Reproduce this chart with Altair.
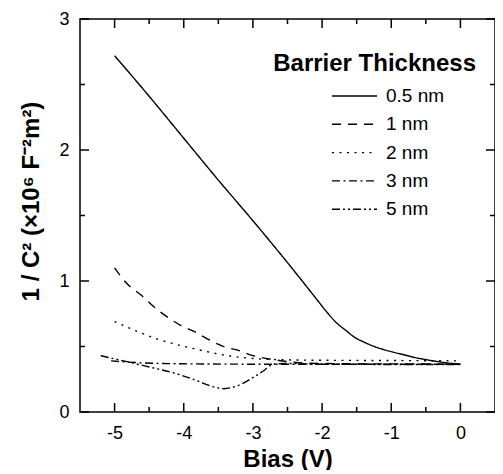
import altair as alt
import pandas as pd

FONT = "Liberation Sans"

series = ["0.5 nm", "1 nm", "2 nm", "3 nm", "5 nm"]
legend_title = "Barrier Thickness"
x_title = "Bias (V)"
y_title = "1 / C² (×10⁶ F⁻²m²)"

bias_05 = [-5.0, -4.5, -4.0, -3.5, -3.0, -2.5, -2.25, -2.1, -1.95, -1.81, -1.65, -1.53, -1.4, -1.245, -1.1, -0.96, -0.8, -0.676, -0.5, -0.39, -0.2, 0.0]
val_05 = [2.72, 2.41, 2.09, 1.77, 1.46, 1.14, 0.975, 0.875, 0.775, 0.69, 0.62, 0.57, 0.535, 0.50, 0.475, 0.455, 0.435, 0.418, 0.40, 0.39, 0.375, 0.365]

bias_1 = [-5.0, -4.84, -4.6, -4.39, -4.25, -4.04, -3.85, -3.63, -3.45, -3.18, -3.0, -2.76, -2.5, -2.2, -1.5, -1.0, 0.0]
val_1 = [1.10, 0.99, 0.885, 0.785, 0.73, 0.66, 0.615, 0.55, 0.505, 0.465, 0.43, 0.405, 0.385, 0.372, 0.368, 0.367, 0.365]

bias_2 = [-5.0, -4.74, -4.4, -4.1, -3.7, -3.33, -2.95, -2.5, -2.0, -1.0, 0.0]
val_2 = [0.69, 0.63, 0.56, 0.515, 0.465, 0.427, 0.407, 0.398, 0.395, 0.393, 0.39]

bias_3 = [-5.05, -4.6, -4.0, -3.0, -2.0, -1.0, 0.0]
val_3 = [0.39, 0.375, 0.368, 0.365, 0.365, 0.364, 0.364]

bias_5 = [-5.2, -4.55, -4.08, -3.8, -3.61, -3.5, -3.42, -3.33, -3.18, -3.04, -2.85, -2.71, -2.5, -2.0, -1.0, 0.0]
val_5 = [0.43, 0.35, 0.288, 0.237, 0.198, 0.183, 0.178, 0.184, 0.21, 0.25, 0.313, 0.364, 0.37, 0.365, 0.363, 0.363]

x_major = [-5, -4, -3, -2, -1, 0]
x_minor = [-4.5, -3.5, -2.5, -1.5, -0.5]
y_major = [0, 1, 2, 3]
y_minor = [0.5, 1.5, 2.5]

dashes = [[1, 0], [9, 7], [2, 5.5], [8, 3.5, 2, 3.5], [8, 3, 2, 3, 2, 3]]

X_DOM = [-5.5, 0.5]
Y_DOM = [0, 3]
W, H = 415, 393
MAJ, MIN = 9, 5  # tick lengths in pixels

rows = []
for name, xs, ys in zip(series, [bias_05, bias_1, bias_2, bias_3, bias_5],
                        [val_05, val_1, val_2, val_3, val_5]):
    for x, y in zip(xs, ys):
        rows.append({"series": name, "bias": x, "val": y})
df = pd.DataFrame(rows)

# inward tick segments on all four sides (lengths converted to data units)
ylen = lambda px: px / H * (Y_DOM[1] - Y_DOM[0])
xlen = lambda px: px / W * (X_DOM[1] - X_DOM[0])
trows = []
for vals, px in [(x_major, MAJ), (x_minor, MIN)]:
    for v in vals:
        trows.append({"tx": v, "tx2": v, "ty": Y_DOM[0], "ty2": Y_DOM[0] + ylen(px)})
        trows.append({"tx": v, "tx2": v, "ty": Y_DOM[1], "ty2": Y_DOM[1] - ylen(px)})
for vals, px in [(y_major, MAJ), (y_minor, MIN)]:
    for v in vals:
        trows.append({"tx": X_DOM[0], "tx2": X_DOM[0] + xlen(px), "ty": v, "ty2": v})
        trows.append({"tx": X_DOM[1], "tx2": X_DOM[1] - xlen(px), "ty": v, "ty2": v})
tdf = pd.DataFrame(trows)

xscale = alt.Scale(domain=X_DOM, nice=False, zero=False)
yscale = alt.Scale(domain=Y_DOM, nice=False, zero=False)

xaxis = alt.Axis(values=x_major, title=x_title, labelExpr="'' + datum.value",
                 labelPadding=12, titleBaseline="alphabetic", titleY=54)
yaxis = alt.Axis(values=y_major, title=y_title, labelExpr="'' + datum.value",
                 labelPadding=11, titleBaseline="alphabetic", titleX=-42, titleY=182)

lines = alt.Chart(df).mark_line(color="black", strokeWidth=1.4, interpolate="monotone").encode(
    x=alt.X("bias:Q", scale=xscale, axis=xaxis),
    y=alt.Y("val:Q", scale=yscale, axis=yaxis),
    strokeDash=alt.StrokeDash(
        "series:N", sort=series,
        scale=alt.Scale(domain=series, range=dashes),
        legend=alt.Legend(
            title=None, orient="none", legendX=251, legendY=64,
            symbolType="stroke", symbolSize=2025, symbolStrokeWidth=1.4,
            symbolStrokeColor="black", clipHeight=26, rowPadding=2.3,
            labelOffset=8, labelFontSize=19, labelFont=FONT, labelColor="black",
            padding=0,
        ),
    ),
)

ticks = alt.Chart(tdf).mark_rule(stroke="black", strokeWidth=1.5, opacity=1).encode(
    x=alt.X("tx:Q", scale=xscale, axis=xaxis),
    x2="tx2:Q",
    y=alt.Y("ty:Q", scale=yscale, axis=yaxis),
    y2="ty2:Q",
)

title_text = alt.Chart(pd.DataFrame({"t": [legend_title]})).mark_text(
    align="right", baseline="alphabetic", fontSize=24, fontWeight="bold",
    font=FONT, color="black").encode(x=alt.value(396), y=alt.value(52), text="t:N")

chart = alt.layer(lines, ticks, title_text).properties(
    width=W, height=H,
    autosize=alt.AutoSizeParams(type="none"),
    padding={"left": 72, "top": 11, "right": 0, "bottom": 58},
    background="white",
).configure_view(
    stroke="black", strokeWidth=1.5
).configure_axis(
    domain=False, ticks=False, tickSize=0, grid=False,
    labelFont=FONT, labelFontSize=18, labelColor="black",
    titleFont=FONT, titleFontSize=24, titleFontWeight="bold", titleColor="black",
)

chart.save("out.html", embed_options={"renderer": "svg", "actions": False})
